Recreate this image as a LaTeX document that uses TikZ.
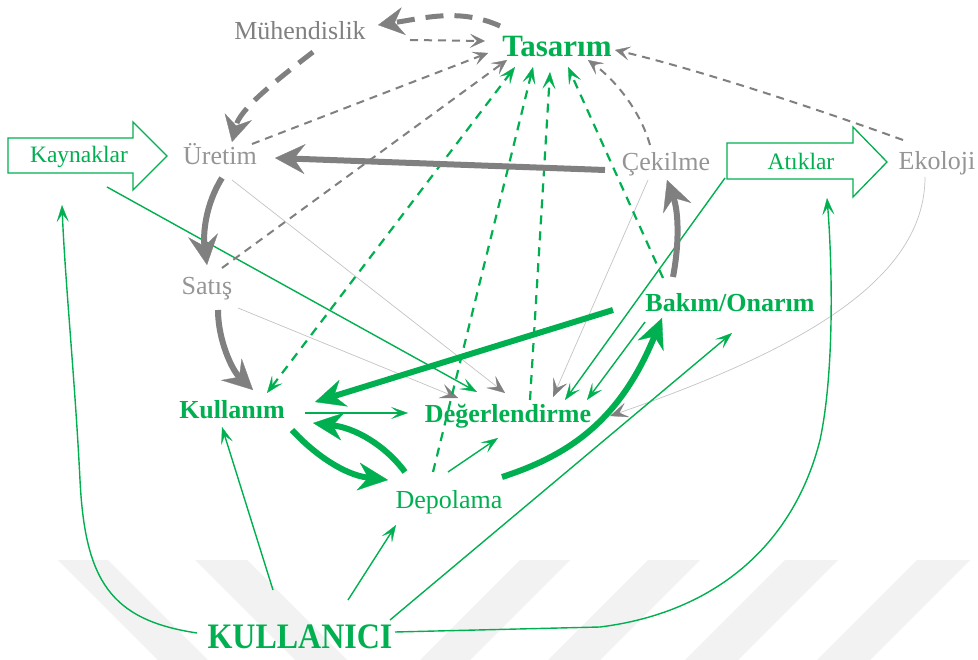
\documentclass[tikz,border=0pt]{standalone}
\usepackage{fontspec}
\setmainfont{Liberation Serif}
\usetikzlibrary{arrows.meta,calc}
\definecolor{gr}{HTML}{00B050}
\definecolor{gy}{HTML}{808080}
\definecolor{gt}{HTML}{959595}
\definecolor{lg}{HTML}{C4C4C4}
\definecolor{wm}{HTML}{F2F2F2}
\newcommand\fsz[1]{\fontsize{#1}{#1}\selectfont}
\begin{document}
\begin{tikzpicture}[x=1pt,y=-1pt,
  lbl/.style={anchor=base,inner sep=0pt},
  thinG/.style={draw=gr,line width=1.4pt,-{Stealth[length=17pt,width=12pt,inset=8pt,line width=0.3pt]}},
  thinL/.style={draw=lg,line width=0.7pt,-{Stealth[length=18pt,width=15pt,inset=8pt,line width=0.3pt,color=gy]}},
  dashG/.style={draw=gr,line width=2.2pt,dash pattern=on 9pt off 7pt,-{Stealth[length=17pt,width=13pt,inset=8pt,line width=0.3pt]}},
  dashY/.style={draw=gy,line width=2pt,dash pattern=on 8pt off 6pt,-{Stealth[length=15pt,width=14pt,inset=7pt,line width=0.3pt]}},
  dashYY/.style={draw=gy,line width=5pt,dash pattern=on 18pt off 11pt,-{Stealth[length=26pt,width=28pt,inset=9pt,line width=0.3pt]}},
  thickY/.style={draw=gy,line width=6pt,-{Stealth[length=30pt,width=30pt,inset=11pt,line width=0.3pt]}},
  thickG/.style={draw=gr,line width=6pt,-{Stealth[length=30pt,width=28pt,inset=10pt,line width=0.3pt]}},
  blockarrow/.style={draw=gr,line width=1.3pt,fill=white}
]
\useasboundingbox (0,0) rectangle (978,660);
\fill[white] (0,0) rectangle (978,660);
% watermark
\begin{scope}
\clip (0,0) rectangle (978,660);
\fill[wm] (58,560) -- (108,560) -- (208,660) -- (158,660) -- cycle;
\fill[wm] (195,560) -- (247,560) -- (347,660) -- (295,660) -- cycle;
\fill[wm] (520,560) -- (570,560) -- (470,660) -- (420,660) -- cycle;
\fill[wm] (648,560) -- (700,560) -- (600,660) -- (548,660) -- cycle;
\fill[wm] (785,560) -- (838,560) -- (738,660) -- (685,660) -- cycle;
\fill[wm] (917,560) -- (970,560) -- (870,660) -- (817,660) -- cycle;
\end{scope}
% block arrows
\draw[blockarrow] (8,138) -- (133,138) -- (133,122) -- (167,156) -- (133,190) -- (133,173) -- (8,173) -- cycle;
\draw[blockarrow] (727,143) -- (853,143) -- (853,127) -- (887,162) -- (853,197) -- (853,179) -- (727,179) -- cycle;
% labels
\node[lbl,text=gy,font=\fsz{26}] (muh) at (300,40) {Mühendislik};
\node[lbl,text=gr,font=\bfseries\fsz{31}] (tas) at (557,57) {Tasarım};
\node[lbl,text=gt,font=\fsz{26}] (ure) at (220,165) {Üretim};
\node[lbl,text=gr,font=\fsz{23.5}] (kay) at (79,163) {Kaynaklar};
\node[lbl,text=gt,font=\fsz{26}] (sat) at (207,295) {Satış};
\node[lbl,text=gt,font=\fsz{26}] (cek) at (666,171) {Çekilme};
\node[lbl,text=gr,font=\fsz{23.5}] (atk) at (801,170) {Atıklar};
\node[lbl,text=gt,font=\fsz{26}] (eko) at (937,170) {Ekoloji};
\node[lbl,text=gr,font=\bfseries\fsz{26}] (bak) at (730,312) {Bakım/Onarım};
\node[lbl,text=gr,font=\bfseries\fsz{26}] (kul) at (232,419) {Kullanım};
\node[lbl,text=gr,font=\bfseries\fsz{26}] (deg) at (508,423) {Değerlendirme};
\node[lbl,text=gr,font=\fsz{26}] (dep) at (449,508) {Depolama};
\node[lbl,text=gr,font=\bfseries\fsz{32}] (kuc) at (300,648) {\scalebox{1}[1.12]{KULLANICI}};
% light grey thin
\draw[thinL] ($(ure.base)+(12,15)$) -- ($(deg.base)+(-3,-30)$);
\draw[thinL] ($(sat.base)+(31,13)$) -- ($(deg.base)+(-50,-25)$);
\draw[thinL] ($(cek.base)+(-18,9)$) -- ($(deg.base)+(45,-26)$);
\draw[thinL] ($(eko.base)+(-12,7)$) .. controls ($(eko.base)+(-12,110)$) and ($(deg.base)+(292,-73)$) .. ($(deg.base)+(102,-7)$);
% green thin
\draw[thinG] ($(kay.base)+(28,24)$) -- ($(deg.base)+(-31,-31)$);
\draw[thinG] ($(atk.base)+(-76,8)$) -- ($(deg.base)+(57,-23)$);
\draw[thinG] ($(bak.base)+(-85,10)$) -- ($(deg.base)+(79,-23)$);
\draw[thinG] ($(dep.base)+(-1,-36)$) -- ($(deg.base)+(-10,15)$);
\draw[thinG] ($(kul.base)+(73,-6)$) -- ($(deg.base)+(-100,-10)$);
\draw[thinG] ($(kuc.base)+(-27,-58)$) -- ($(kul.base)+(-10,8)$);
\draw[thinG] ($(kuc.base)+(48,-48)$) -- ($(dep.base)+(-53,17)$);
\draw[thinG] ($(kuc.base)+(90,-28)$) -- ($(bak.base)+(2,21)$);
\draw[thinG] ($(kuc.base)+(-103,-15)$) .. controls ($(kuc.base)+(-190,-28)$) and ($(kuc.base)+(-215,-68)$) .. ($(kuc.base)+(-220,-168)$) .. controls ($(kay.base)+(-4,217)$) and ($(kay.base)+(-14,117)$) .. ($(kay.base)+(-17,42)$);
\draw[thinG] ($(kuc.base)+(95,-16)$) -- ($(kuc.base)+(300,-21)$) .. controls ($(kuc.base)+(420,-36)$) and ($(atk.base)+(-6,370)$) .. ($(atk.base)+(19,270)$) .. controls ($(atk.base)+(34,200)$) and ($(atk.base)+(31,90)$) .. ($(atk.base)+(26,28)$);
% grey dashed to Tasarim
\draw[dashY] ($(muh.base)+(110,0)$) -- ($(tas.base)+(-72,-16)$);
\draw[dashY] ($(ure.base)+(32,-21)$) -- ($(tas.base)+(-69,-4)$);
\draw[dashY] ($(sat.base)+(15,-27)$) -- ($(tas.base)+(-50,3)$);
\draw[dashY] ($(cek.base)+(-16,-26)$) .. controls ($(cek.base)+(-26,-61)$) and ($(tas.base)+(58,23)$) .. ($(tas.base)+(31,3)$);
\draw[dashY] ($(eko.base)+(-34,-30)$) .. controls ($(eko.base)+(-117,-60)$) and ($(tas.base)+(143,13)$) .. ($(tas.base)+(58,-7)$);
% green dashed to Tasarim
\draw[dashG,{Stealth[length=17pt,width=13pt,inset=8pt,line width=0.3pt]}-{Stealth[length=17pt,width=13pt,inset=8pt,line width=0.3pt]}] ($(kul.base)+(35,-26)$) -- ($(tas.base)+(-42,10)$);
\draw[dashG] ($(dep.base)+(-16,-36)$) -- ($(tas.base)+(-24,10)$);
\draw[dashG] ($(deg.base)+(22,-23)$) -- ($(tas.base)+(-7,15)$);
\draw[dashG] ($(bak.base)+(-67,-34)$) -- ($(tas.base)+(11,10)$);
% thick grey dashed
\draw[dashYY] ($(tas.base)+(-57,-31)$) .. controls ($(tas.base)+(-97,-49)$) and ($(muh.base)+(125,-22)$) .. ($(muh.base)+(78,-15)$);
\draw[dashYY] ($(muh.base)+(13,12)$) .. controls ($(muh.base)+(-30,45)$) and ($(ure.base)+(20,-55)$) .. ($(ure.base)+(12,-23)$);
% thick grey
\draw[thickY] ($(cek.base)+(-61,-1)$) -- ($(ure.base)+(55,-7)$);
\draw[thickY] ($(ure.base)+(2,13)$) .. controls ($(ure.base)+(-15,40)$) and ($(sat.base)+(-4,-60)$) .. ($(sat.base)+(0,-30)$);
\draw[thickY] ($(sat.base)+(11,15)$) .. controls ($(sat.base)+(11,45)$) and ($(kul.base)+(0,-49)$) .. ($(kul.base)+(21,-29)$);
\draw[thickY] ($(bak.base)+(-57,-35)$) .. controls ($(bak.base)+(-50,-72)$) and ($(cek.base)+(12,39)$) .. ($(cek.base)+(1,9)$);
% thick green
\draw[thickG] ($(bak.base)+(-117,-2)$) -- ($(kul.base)+(83,-17)$);
\draw[thickG] ($(kul.base)+(60,11)$) .. controls ($(kul.base)+(83,36)$) and ($(dep.base)+(-104,-33)$) .. ($(dep.base)+(-61,-28)$);
\draw[thickG] ($(dep.base)+(-44,-36)$) .. controls ($(dep.base)+(-64,-63)$) and ($(kul.base)+(123,9)$) .. ($(kul.base)+(81,4)$);
\draw[thickG] ($(dep.base)+(53,-31)$) .. controls ($(dep.base)+(121,-53)$) and ($(bak.base)+(-110,108)$) .. ($(bak.base)+(-68,6)$);
\end{tikzpicture}
\end{document}
